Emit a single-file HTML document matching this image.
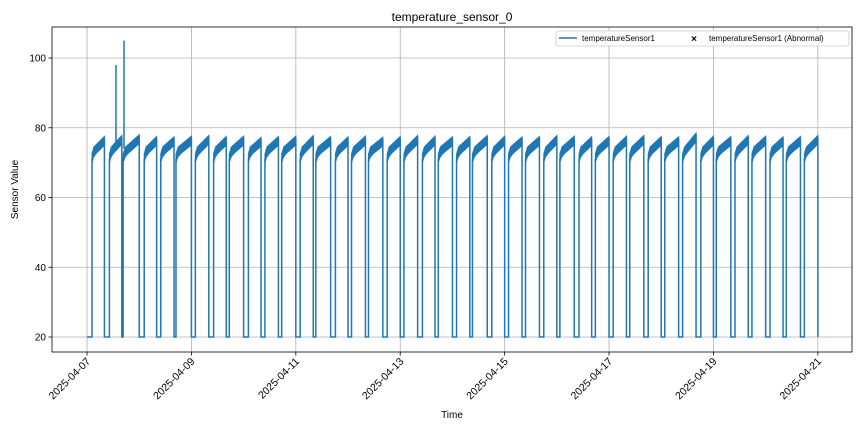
<!DOCTYPE html>
<html><head><meta charset="utf-8"><style>
body{margin:0;background:#fff;}
svg text{font-family:"Liberation Sans",sans-serif;fill:#000;}
</style></head><body>
<svg id="c" width="864" height="432"></svg>
<script>
const dropStart=[8,16,24,32,40,48,56,64,72,80,88,96,104,112,120,128,136,144,152,160,168,176,184,192,200,208,216,224,232,240,248,256,264,272,280,288,296,304,312,320,328];
const dropLen=[2.3,0.6,2.3,1.9,0.9,1.8,2.2,1.4,2.2,1.8,1.5,2,1.2,2.2,1.6,1.4,2,1.7,2.2,1.5,1.9,1.2,2.1,1.8,1.6,2,1.4,2.2,1.7,1.9,1.5,2,1.6,1.8,2.2,1.3,1.9,1.7,2,1.5,1.8];
const peakVal=[77.5,77.8,78,77.5,77.4,77.6,77.8,77.5,77.6,77.2,77.5,77.6,77.8,77.5,77.4,77.6,77.3,77.5,77.8,77.6,77.4,77.5,77.8,77.6,77.4,77.5,77.8,77.6,77.4,77.5,77.6,77.8,77.5,77.4,78.5,77.6,77.5,77.8,77.6,77.4,77.5,77.8];
const spikeHours=[13.3,17];
const spikeVals=[98,105];
const startOn=2.3, endHour=336;
const yTicks=[20,40,60,80,100];
const xTickHours=[0,48,96,144,192,240,288,336];
const xTickLabels=["2025-04-07","2025-04-09","2025-04-11","2025-04-13","2025-04-15","2025-04-17","2025-04-19","2025-04-21"];

const L=52,R=852,T=27,B=352;
const x0=-16.1,x1=351.7,y0=15.7,y1=108.9;
const X=h=>L+(h-x0)/(x1-x0)*(R-L);
const Y=v=>B-(v-y0)/(y1-y0)*(B-T);
const svg=document.getElementById('c');
const NS='http://www.w3.org/2000/svg';
function mk(tag,attrs,parent){const e=document.createElementNS(NS,tag);for(const k in attrs)e.setAttribute(k,attrs[k]);(parent||svg).appendChild(e);return e;}

yTicks.forEach(v=>{const g=mk('line',{x1:L,x2:R,y1:Y(v),y2:Y(v),stroke:'#b0b0b0','stroke-width':0.8});

});
xTickHours.forEach(h=>{const g=mk('line',{x1:X(h),x2:X(h),y1:T,y2:B,stroke:'#b0b0b0','stroke-width':0.8});

});

const low=20;
let ons=[];let prev=startOn;
dropStart.forEach((d,i)=>{ons.push([prev,d,peakVal[i]]);prev=d+dropLen[i];});
ons.push([prev,endHour,peakVal[peakVal.length-1]]);
let line='M'+X(0)+','+Y(low);
let band='';
ons.forEach(([a,b,p],i)=>{
  line+=' L'+X(a)+','+Y(low)+' L'+X(a)+','+Y(71)+' L'+X(b)+','+Y(p-1)+' L'+X(b)+','+Y(low);
  const m=a+(b-a)*0.15;
  band+='M'+X(a)+','+Y(72.5)+' L'+X(m)+','+Y(74.5)+' L'+X(b)+','+Y(p)+' L'+X(b)+','+Y(p-2.5)+' L'+X(m)+','+Y(72)+' L'+X(a)+','+Y(70)+'Z ';
});
const g=mk('g',{});


const bp=mk('path',{d:band,fill:'#1f77b4',stroke:'#1f77b4','stroke-width':1},g);


const lp=mk('path',{d:line,fill:'none',stroke:'#1f77b4','stroke-width':1.5},g);


spikeHours.forEach((h,i)=>{const s=mk('line',{x1:X(h),x2:X(h),y1:Y(74),y2:Y(spikeVals[i]),stroke:'#1f77b4','stroke-width':1.5},g);

});

const fr=mk('rect',{x:L,y:T,width:R-L,height:B-T,fill:'none',stroke:'#000','stroke-width':0.8});



yTicks.forEach(v=>{mk('line',{x1:L-3.5,x2:L,y1:Y(v),y2:Y(v),stroke:'#000','stroke-width':0.8});
const t=mk('text',{x:L-6,y:Y(v)+3.5,'text-anchor':'end','font-size':10});t.textContent=v;

});
xTickHours.forEach((h,i)=>{mk('line',{x1:X(h),x2:X(h),y1:B,y2:B+3.5,stroke:'#000','stroke-width':0.8});
const t=mk('text',{x:X(h)+4,y:B+10,'text-anchor':'end','font-size':10.5,transform:`rotate(-45 ${X(h)+4} ${B+10})`});t.textContent=xTickLabels[i];

});

let t=mk('text',{x:(L+R)/2,y:21,'text-anchor':'middle','font-size':12});t.textContent='temperature_sensor_0';


t=mk('text',{x:(L+R)/2,y:418,'text-anchor':'middle','font-size':10});t.textContent='Time';


t=mk('text',{x:18,y:(T+B)/2,'text-anchor':'middle','font-size':10,transform:`rotate(-90 18 ${(T+B)/2})`});t.textContent='Sensor Value';



const lg=mk('g',{});


mk('rect',{x:556,y:31,width:293,height:15,fill:'#fff',stroke:'#ccc','stroke-width':0.8,rx:2},lg);
mk('line',{x1:559,x2:577,y1:38,y2:38,stroke:'#1f77b4','stroke-width':1.5},lg);
t=mk('text',{x:582,y:41,'font-size':8},lg);t.textContent='temperatureSensor1';


t=mk('text',{x:694,y:42,'text-anchor':'middle','font-size':10,'font-weight':'bold'},lg);t.textContent='×';


t=mk('text',{x:709,y:41,'font-size':8},lg);t.textContent='temperatureSensor1 (Abnormal)';


</script>
</body></html>
